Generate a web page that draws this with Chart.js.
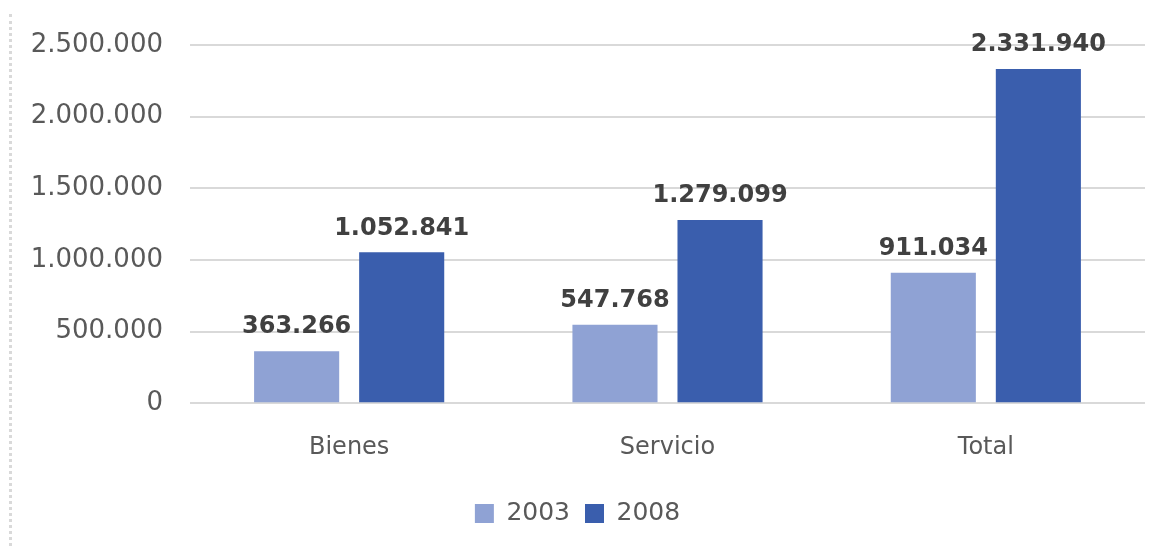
<!DOCTYPE html>
<html>
<head>
<meta charset="utf-8">
<script src="https://cdn.jsdelivr.net/npm/chart.js@4"></script>
<style>
  html, body { margin: 0; padding: 0; background: #fff; }
  #wrap { position: relative; width: 1176px; height: 551px; }
  #frame { position: absolute; left: 9px; top: 14px; width: 0; height: 532px; border-left: 3px dotted #d9d9d9; }
</style>
</head>
<body>
<div id="wrap">
  <div id="frame"></div>
  <canvas id="chart" width="1176" height="551"></canvas>
</div>
<script>
const categories = ["Bienes", "Servicio", "Total"];
const values2003 = [363266, 547768, 911034];
const values2008 = [1052841, 1279099, 2331940];
const seriesNames = ["2003", "2008"];

const fontFamily = "'DejaVu Sans', Verdana, sans-serif";

function fmt(n) {
    return String(n).replace(/\B(?=(\d{3})+(?!\d))/g, ".");
}

// draws the value above every bar
const barLabels = {
    id: "barLabels",
    afterDatasetsDraw(chart) {
        const ctx = chart.ctx;
        ctx.save();
        ctx.font = "bold 24px " + fontFamily;
        ctx.fillStyle = "#404040";
        ctx.textAlign = "center";
        ctx.textBaseline = "middle";
        chart.data.datasets.forEach((ds, i) => {
            chart.getDatasetMeta(i).data.forEach((bar, j) => {
                ctx.fillText(fmt(ds.data[j]), bar.x, bar.y - 24);
            });
        });
        ctx.restore();
    },
};

new Chart(document.getElementById("chart"), {
    type: "bar",
    data: {
        labels: categories,
        datasets: [
            { label: seriesNames[0], data: values2003, backgroundColor: "#8fa2d4" },
            { label: seriesNames[1], data: values2008, backgroundColor: "#3a5ead" },
        ],
    },
    options: {
        responsive: false,
        animation: false,
        categoryPercentage: 0.66,
        barPercentage: 0.81,
        layout: { padding: { left: 10, right: 31, top: 45, bottom: 15 } },
        plugins: {
            tooltip: { enabled: false },
            legend: {
                position: "bottom",
                labels: {
                    color: "#595959",
                    font: { family: fontFamily, size: 25 },
                    boxWidth: 19,
                    boxHeight: 19,
                    padding: 15,
                },
            },
        },
        scales: {
            x: {
                afterFit: (scale) => { scale.height += 2; },
                grid: { display: false },
                border: { display: false },
                ticks: { color: "#595959", font: { family: fontFamily, size: 24 }, padding: 22 },
            },
            y: {
                min: 0,
                max: 2500000,
                afterFit: (scale) => { scale.width = 180; },
                grid: { color: "#d9d9d9", lineWidth: 2, drawTicks: false },
                border: { display: false },
                ticks: {
                    stepSize: 500000,
                    padding: 27,
                    color: "#595959",
                    font: { family: fontFamily, size: 26 },
                    callback: (v) => fmt(v),
                },
            },
        },
    },
    plugins: [barLabels],
});
</script>
</body>
</html>
